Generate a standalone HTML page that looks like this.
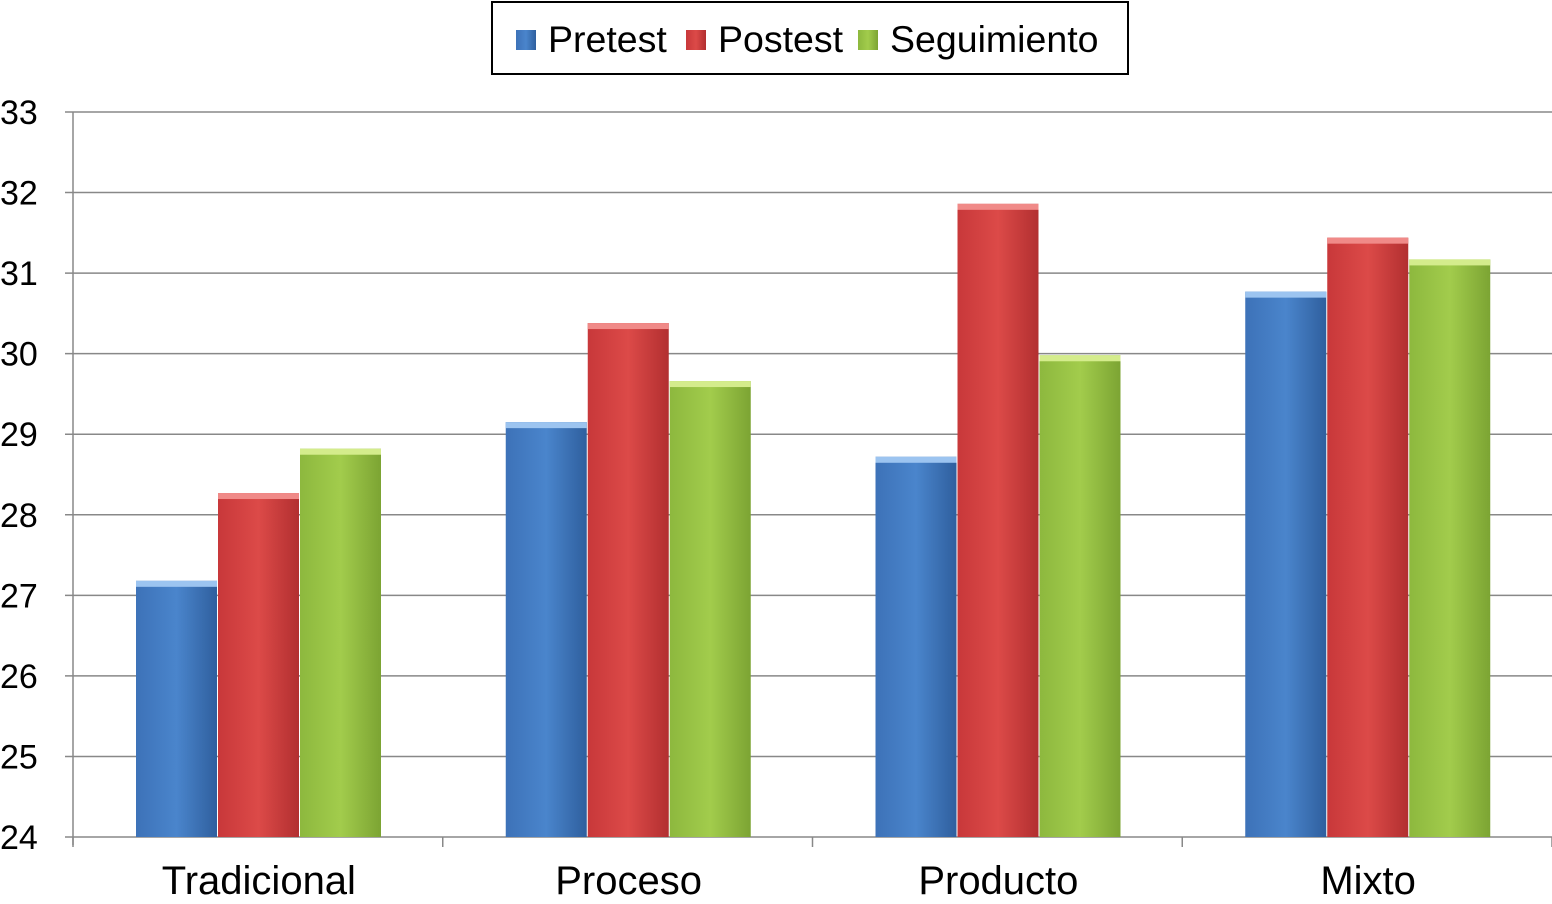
<!DOCTYPE html>
<html><head><meta charset="utf-8"><style>
html,body{margin:0;padding:0;background:#fff;width:1552px;height:904px;overflow:hidden}
svg text{font-family:"Liberation Sans",Arial,sans-serif;fill:#000}
</style></head><body>
<svg id="chart" width="1552" height="904" xmlns="http://www.w3.org/2000/svg">
<defs>
<linearGradient id="gb" x1="0" x2="1"><stop offset="0" stop-color="#3d72b8"/><stop offset="0.5" stop-color="#4a85cc"/><stop offset="1" stop-color="#2f5f9e"/></linearGradient>
<linearGradient id="gr" x1="0" x2="1"><stop offset="0" stop-color="#c8383a"/><stop offset="0.5" stop-color="#dc4a48"/><stop offset="1" stop-color="#b22f30"/></linearGradient>
<linearGradient id="gg" x1="0" x2="1"><stop offset="0" stop-color="#8db83e"/><stop offset="0.5" stop-color="#a2cc4c"/><stop offset="1" stop-color="#7ca433"/></linearGradient>
</defs>
<g id="grid"></g><g id="bars"></g><g id="axes"></g>
<g>
<rect x="492" y="2" width="636" height="72" fill="#fff" stroke="#000" stroke-width="2"/>
<rect x="516" y="30" width="20" height="20" fill="url(#gb)"/>
<text x="548" y="52" font-size="37.5">Pretest</text>
<rect x="686" y="30" width="20" height="20" fill="url(#gr)"/>
<text x="718" y="52" font-size="37.5">Postest</text>
<rect x="858" y="30" width="20" height="20" fill="url(#gg)"/>
<text x="890" y="52" font-size="37.5">Seguimiento</text>
</g>
</svg>
<script>
const categories=["Tradicional","Proceso","Producto","Mixto"];
const pretest=[27.18,29.15,28.72,30.77];
const postest=[28.27,30.38,31.86,31.44];
const seguimiento=[28.82,29.66,29.98,31.17];
const yTicks=[24,25,26,27,28,29,30,31,32,33];
const NS="http://www.w3.org/2000/svg";
const x0=73,x1=1552,y0=837,y1=112,ymin=24,ymax=33;
const y=v=>y0-(v-ymin)/(ymax-ymin)*(y0-y1);
const catW=(x1-x0)/categories.length;
function mk(t,a,p){const e=document.createElementNS(NS,t);for(const k in a)e.setAttribute(k,a[k]);p.appendChild(e);return e;}
const grid=document.getElementById('grid'),bars=document.getElementById('bars'),axes=document.getElementById('axes');
yTicks.forEach(t=>{
 const l=mk('line',{x1:x0-8,x2:x1,y1:y(t),y2:y(t),stroke:'#888','stroke-width':1.5},grid);
 
 
 const tx=mk('text',{x:0,y:y(t)+12,'font-size':34},axes);tx.textContent=t;
 
 
});
mk('line',{x1:x0,x2:x0,y1:y1,y2:y0+8,stroke:'#888','stroke-width':1.5},axes);
for(let i=0;i<=categories.length;i++)mk('line',{x1:x0+i*catW,x2:x0+i*catW,y1:y0,y2:y0+10,stroke:'#888','stroke-width':1.5},axes);
const series=[[pretest,'url(#gb)','#9cc4f0','pretest'],[postest,'url(#gr)','#f08a88','postest'],[seguimiento,'url(#gg)','#d4ec8c','seguimiento']];
const bw=82;
categories.forEach((c,i)=>{
 const gs=x0+i*catW+63;
 series.forEach((s,j)=>{
  const bx=gs+j*bw,by=y(s[0][i]);
  const r=mk('rect',{x:bx,y:by,width:bw-1,height:y0-by,fill:s[1]},bars);
  
  
  mk('rect',{x:bx,y:by,width:bw-1,height:6,fill:s[2]},bars);
 });
 const t=mk('text',{x:x0+i*catW+catW/2+1,y:894,'font-size':40,'text-anchor':'middle'},axes);t.textContent=c;
 
 
});
</script>
</body></html>
